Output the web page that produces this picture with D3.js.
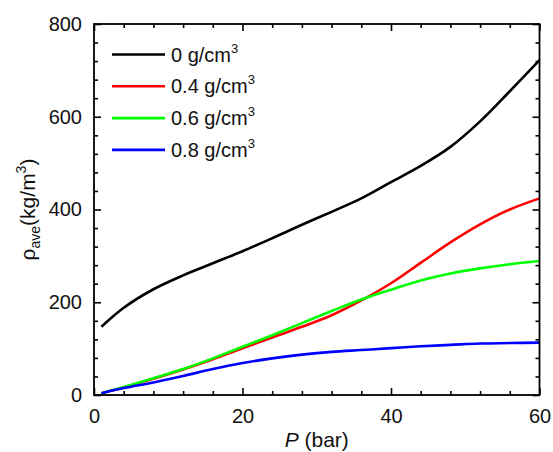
<!DOCTYPE html>
<html>
<head>
<meta charset="utf-8">
<script src="https://cdn.jsdelivr.net/npm/d3@7"></script>
<style>
  body { margin: 0; background: #fff; }
  svg { font-family: "Liberation Sans", Arial, sans-serif; }
</style>
</head>
<body>
<div id="chart"></div>
<script>
// pressure (bar)
var pressure = [1, 4, 8, 12, 16, 20, 24, 28, 32, 36, 40, 44, 48, 52, 56, 60];
// average density (kg/m3) for each loading
var rho0  = [147, 188, 228, 258, 284, 310, 338, 367, 395, 424, 459, 494, 535, 590, 655, 722];
var rho04 = [4, 16, 35, 55, 77, 101, 124, 147, 172, 204, 241, 285, 329, 368, 400, 424];
var rho06 = [4, 17, 36, 56, 79, 104, 129, 155, 181, 206, 227, 247, 262, 273, 282, 289];
var rho08 = [4, 15, 27, 41, 56, 69, 79, 87, 93, 97, 101, 105, 108, 111, 112, 113];
var seriesNames = ["0", "0.4", "0.6", "0.8"];
var seriesColors = ["#000000", "#ff0000", "#00ff00", "#0000ff"];
var xTicks = [0, 20, 40, 60];
var yTicks = [0, 200, 400, 600, 800];

var width = 553, height = 452;
var margin = {top: 24, right: 13.5, bottom: 57, left: 94};

var svg = d3.select("#chart").append("svg")
    .attr("width", width)
    .attr("height", height);

var x = d3.scaleLinear().domain([0, 60]).range([margin.left, width - margin.right]);
var y = d3.scaleLinear().domain([0, 800]).range([height - margin.bottom, margin.top]);

var series = [rho0, rho04, rho06, rho08];

var line = d3.line()
    .x(function (d, i) { return x(pressure[i]); })
    .y(function (d) { return y(d); })
    .curve(d3.curveCatmullRom);

svg.append("g").selectAll("path")
  .data(series)
  .enter().append("path")
    .attr("d", line)
    .attr("fill", "none")
    .attr("stroke", function (d, i) { return seriesColors[i]; })
    .attr("stroke-width", 2.6);

// axes: inward ticks on all four sides
var xMinor = d3.range(0, 61, 4).filter(function (v) { return v % 20 != 0; });
var yMinor = d3.range(0, 801, 40).filter(function (v) { return v % 200 != 0; });

function drawAxis(axis, tx, ty) {
  var g = svg.append("g")
      .attr("transform", "translate(" + tx + "," + ty + ")")
      .call(axis);
  g.selectAll("path.domain").remove();
  g.selectAll("line").attr("stroke", "#000").attr("stroke-width", 1.6);
  return g;
}

var bottomY = y(0), topY = y(800), leftX = x(0), rightX = x(60);

var xb = drawAxis(d3.axisBottom(x).tickValues(xTicks).tickSizeInner(-7).tickSizeOuter(0).tickPadding(14), 0, bottomY);
drawAxis(d3.axisBottom(x).tickValues(xMinor).tickSize(-4).tickFormat(""), 0, bottomY);
drawAxis(d3.axisTop(x).tickValues(xTicks).tickSize(-7).tickFormat(""), 0, topY);
drawAxis(d3.axisTop(x).tickValues(xMinor).tickSize(-4).tickFormat(""), 0, topY);

var yl = drawAxis(d3.axisLeft(y).tickValues(yTicks).tickSizeInner(-7).tickSizeOuter(0).tickPadding(12), leftX, 0);
drawAxis(d3.axisLeft(y).tickValues(yMinor).tickSize(-4).tickFormat(""), leftX, 0);
drawAxis(d3.axisRight(y).tickValues(yTicks).tickSize(-7).tickFormat(""), rightX, 0);
drawAxis(d3.axisRight(y).tickValues(yMinor).tickSize(-4).tickFormat(""), rightX, 0);

xb.selectAll("text").attr("font-size", 20).attr("fill", "#111");
yl.selectAll("text").attr("font-size", 20).attr("fill", "#111");

// frame
svg.append("rect")
    .attr("x", leftX).attr("y", topY)
    .attr("width", rightX - leftX).attr("height", bottomY - topY)
    .attr("fill", "none").attr("stroke", "#000").attr("stroke-width", 1.8);

// axis titles
var xt = svg.append("text")
    .attr("x", (leftX + rightX) / 2)
    .attr("y", 447)
    .attr("text-anchor", "middle")
    .attr("font-size", 21)
    .attr("fill", "#111");
xt.append("tspan").attr("font-style", "italic").text("P");
xt.append("tspan").text(" (bar)");

var yt = svg.append("text")
    .attr("transform", "translate(35," + (topY + bottomY) / 2 + ") rotate(-90)")
    .attr("text-anchor", "middle")
    .attr("font-size", 21)
    .attr("fill", "#111");
yt.append("tspan").text("ρ");
yt.append("tspan").attr("font-size", 14).attr("dy", 5).text("ave");
yt.append("tspan").attr("dy", -5).text("(kg/m");
yt.append("tspan").attr("font-size", 14).attr("dy", -9).text("3");
yt.append("tspan").attr("dy", 9).text(")");

// legend
var legend = svg.append("g").selectAll("g")
  .data(seriesNames)
  .enter().append("g")
    .attr("transform", function (d, i) { return "translate(112," + (54.5 + i * 31.8) + ")"; });

legend.append("line")
    .attr("x1", 0).attr("x2", 53)
    .attr("stroke", function (d, i) { return seriesColors[i]; })
    .attr("stroke-width", 2.6);

var lt = legend.append("text")
    .attr("x", 59)
    .attr("dy", "0.35em")
    .attr("font-size", 20)
    .attr("fill", "#111");
lt.append("tspan").text(function (d) { return d + " g/cm"; });
lt.append("tspan").attr("font-size", 13).attr("dy", -9).text("3");
</script>
</body>
</html>
